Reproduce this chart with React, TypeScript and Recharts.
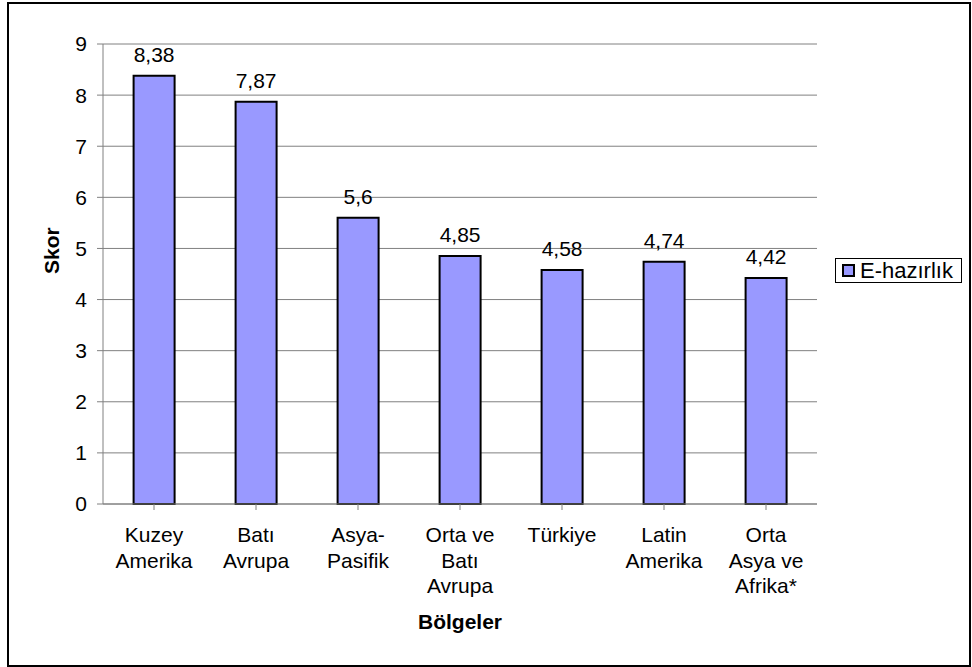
import React from "react";
import { BarChart, Bar, XAxis, YAxis, CartesianGrid, LabelList } from "recharts";

const regions = [
  "Kuzey\nAmerika",
  "Batı\nAvrupa",
  "Asya-\nPasifik",
  "Orta ve\nBatı\nAvrupa",
  "Türkiye",
  "Latin\nAmerika",
  "Orta\nAsya ve\nAfrika*",
];
const scores = [8.38, 7.87, 5.6, 4.85, 4.58, 4.74, 4.42];
const yTicks = [0, 1, 2, 3, 4, 5, 6, 7, 8, 9];
const seriesName = "E-hazırlık";
const xTitle = "Bölgeler";
const yTitle = "Skor";

const data = regions.map((r, i) => ({ region: r, value: scores[i] }));

const FONT = "Arial, 'Liberation Sans', sans-serif";
const FS = 21;

const XTick = (props: any) => {
  const { x, y, payload } = props;
  const lines = String(payload.value).split("\n");
  return (
    <g transform={`translate(${x},${y})`}>
      {lines.map((l, i) => (
        <text key={i} x={0} y={30 + i * 25.5} textAnchor="middle" fontSize={FS} fontFamily={FONT} fill="#000">
          {l}
        </text>
      ))}
    </g>
  );
};

export default function App() {
  return (
    <div style={{ position: "absolute", left: 0, top: 0, width: 972, height: 667, background: "#fff", overflow: "hidden" }}>
      <div
        style={{
          position: "absolute",
          left: 7,
          top: 2,
          width: 964,
          height: 665,
          border: "2px solid #000",
          boxSizing: "border-box",
        }}
      />
      <div style={{ position: "absolute", left: 0, top: 0 }}>
        <BarChart
          width={972}
          height={667}
          data={data}
          margin={{ top: 44, right: 155, left: 40, bottom: 63 }}
          barCategoryGap="30%"
        >
          <CartesianGrid vertical={false} stroke="#808080" strokeWidth={1} />
          <XAxis
            dataKey="region"
            interval={0}
            height={100}
            tick={<XTick />}
            tickSize={6}
            axisLine={{ stroke: "#808080" }}
            tickLine={{ stroke: "#808080" }}
            label={{ value: xTitle, position: "insideBottom", offset: -25, fontSize: FS, fontWeight: "bold", fontFamily: FONT, fill: "#000" }}
          />
          <YAxis
            domain={[0, 9]}
            ticks={yTicks}
            interval={0}
            width={63}
            tickSize={6}
            tickMargin={10}
            axisLine={{ stroke: "#808080" }}
            tickLine={{ stroke: "#808080" }}
            tick={{ fontSize: FS, fill: "#000", fontFamily: FONT }}
            label={{ value: yTitle, angle: -90, position: "insideLeft", offset: 12, fontSize: FS, fontWeight: "bold", fontFamily: FONT, fill: "#000" }}
          />
          <YAxis
            yAxisId="right"
            orientation="right"
            domain={[0, 9]}
            width={0}
            tick={false}
            tickLine={false}
            axisLine={{ stroke: "#808080" }}
          />
          <Bar dataKey="value" name={seriesName} fill="#9999FF" stroke="#000" strokeWidth={2} isAnimationActive={false}>
            <LabelList
              dataKey="value"
              position="top"
              offset={14}
              formatter={(v: any) => String(v).replace(".", ",")}
              style={{ fontSize: FS, fill: "#000", fontFamily: FONT }}
            />
          </Bar>
        </BarChart>
      </div>
      <div
        style={{
          position: "absolute",
          left: 835,
          top: 258,
          width: 127,
          height: 25,
          border: "1px solid #000",
          boxSizing: "border-box",
          display: "flex",
          alignItems: "center",
          fontFamily: FONT,
          fontSize: 22,
          background: "#fff",
          whiteSpace: "nowrap",
        }}
      >
        <span
          style={{
            display: "inline-block",
            width: 13,
            height: 13,
            boxSizing: "border-box",
            background: "#9999FF",
            border: "2px solid #000",
            marginLeft: 6,
            marginRight: 5,
          }}
        />
        <span>{seriesName}</span>
      </div>
    </div>
  );
}
